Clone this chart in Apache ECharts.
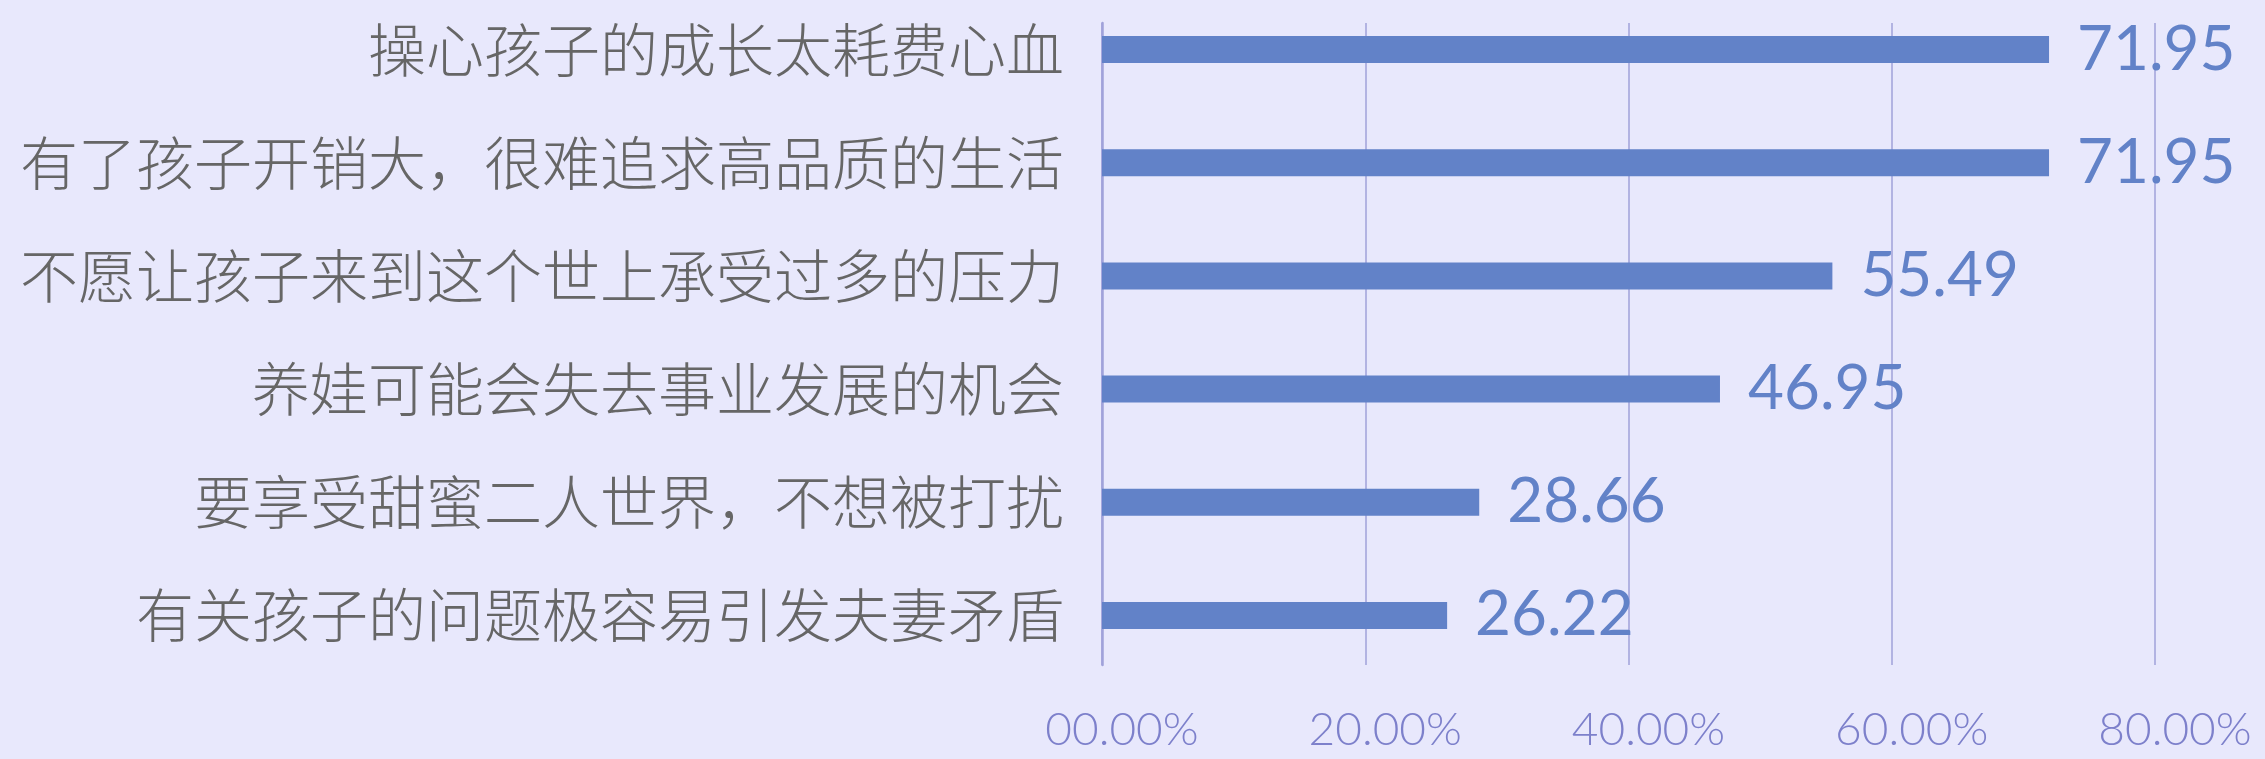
<!DOCTYPE html>
<html>
<head>
<meta charset="utf-8">
<style>
  html, body { margin: 0; padding: 0; background: #e8e8fc; }
  #main { width: 2265px; height: 759px; }
</style>
<script src="https://cdn.jsdelivr.net/npm/echarts@6/dist/echarts.min.js"></script>
</head>
<body>
<div id="main"></div>
<script>
var chartDom = document.getElementById('main');
var chart = echarts.init(chartDom);

// 原因（从上到下）
var reasons = [
    '操心孩子的成长太耗费心血',
    '有了孩子开销大，很难追求高品质的生活',
    '不愿让孩子来到这个世上承受过多的压力',
    '养娃可能会失去事业发展的机会',
    '要享受甜蜜二人世界，不想被打扰',
    '有关孩子的问题极容易引发夫妻矛盾'
];
// 占比 %
var percents = [71.95, 71.95, 55.49, 46.95, 28.66, 26.22];
// x轴刻度
var axisMin = 0, axisMax = 80, axisStep = 20;

var barColor = '#6282c8';
var lineColor = '#a0a2da';

var option = {
    backgroundColor: '#e8e8fc',
    animation: false,
    grid: [
        // 柱子
        { left: 1102, right: 110, top: -7, height: 679, outerBoundsMode: 'none' },
        // 网格线 + 刻度
        { left: 1102, right: 110, top: 23, bottom: 94, outerBoundsMode: 'none' }
    ],
    xAxis: [
        {
            gridIndex: 0,
            type: 'value',
            min: axisMin,
            max: axisMax,
            show: false
        },
        {
            gridIndex: 1,
            type: 'value',
            min: axisMin,
            max: axisMax,
            interval: axisStep,
            axisLine: { show: false },
            axisTick: { show: false },
            splitLine: { lineStyle: { color: lineColor, width: 1.5 } },
            axisLabel: {
                margin: 42,
                fontFamily: 'Lato',
                fontWeight: 300,
                fontSize: 46,
                color: '#7d80cb',
                padding: [0, 0, 0, 40],
                formatter: function (v) {
                    return (v < 10 ? '0' : '') + v.toFixed(2) + '%';
                }
            }
        }
    ],
    yAxis: [
        {
            gridIndex: 0,
            type: 'category',
            inverse: true,
            data: reasons,
            axisLine: { show: false },
            axisTick: { show: false },
            axisLabel: {
                margin: 38,
                fontFamily: 'Noto Sans CJK SC',
                fontWeight: 300,
                fontSize: 58,
                color: '#666666'
            }
        },
        {
            gridIndex: 1,
            type: 'value',
            axisLabel: { show: false },
            splitLine: { show: false },
            axisTick: { show: false },
            axisLine: { show: true, lineStyle: { color: lineColor, width: 2.5 } }
        }
    ],
    series: [
        {
            type: 'bar',
            xAxisIndex: 0,
            yAxisIndex: 0,
            data: percents,
            barWidth: 27,
            itemStyle: { color: barColor },
            z: 3,
            label: {
                show: true,
                position: 'right',
                distance: 28,
                fontFamily: 'Lato',
                fontSize: 62,
                color: barColor,
                formatter: function (p) { return p.value.toFixed(2); }
            }
        }
    ]
};

chart.setOption(option);
</script>
</body>
</html>
